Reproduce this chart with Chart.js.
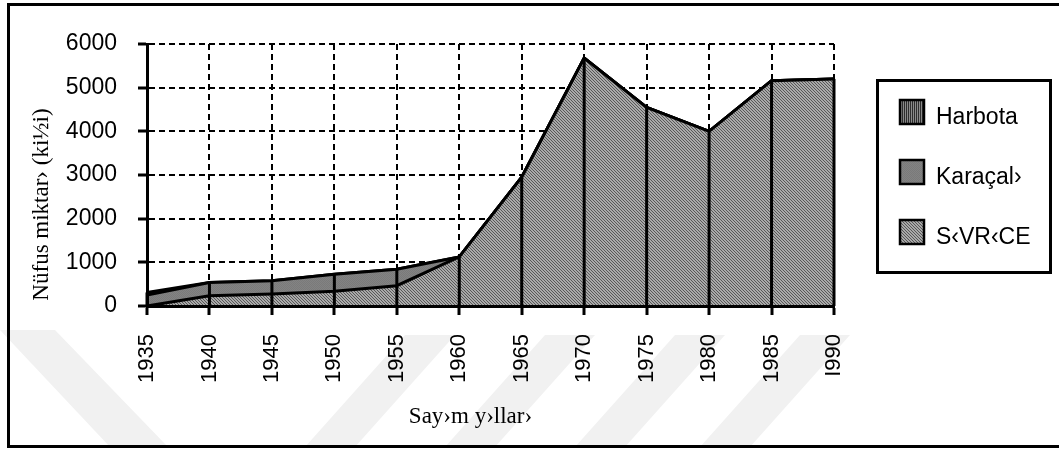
<!DOCTYPE html>
<html><head><meta charset="utf-8">
<script src="https://cdn.jsdelivr.net/npm/chart.js@4.4.1/dist/chart.umd.min.js"></script>
<style>html,body{margin:0;padding:0;background:#fff}canvas{display:block}</style>
</head><body>
<canvas id="c" width="1059" height="450"></canvas>
<script>
// ---- data ----
const years   = ['1935','1940','1945','1950','1955','1960','1965','1970','1975','1980','1985','I990'];
const sivrice = [0, 235, 275, 340, 465, 1125, 2950, 5680, 4550, 4000, 5160, 5200];
const karacal = [250, 305, 305, 385, 375, 0, 0, 0, 0, 0, 0, 0];
const harbota = [60, 0, 0, 0, 0, 0, 0, 0, 0, 0, 0, 0];
const seriesNames = ['Harbota', 'Karaçal›', 'S‹VR‹CE'];
const yTickValues = [0, 1000, 2000, 3000, 4000, 5000, 6000];
const xTitle = 'Say›m y›llar›';
const yTitle = 'Nüfus miktar› (ki½i)';

const canvas = document.getElementById('c');
const ctx0 = canvas.getContext('2d');
function makePattern(w, h, draw) {
  const t = document.createElement('canvas'); t.width = w; t.height = h;
  const g = t.getContext('2d'); draw(g); return ctx0.createPattern(t, 'repeat');
}
const patSivrice = makePattern(3, 3, g => {
  g.fillStyle = '#a9a9a9'; g.fillRect(0, 0, 3, 3);
  g.fillStyle = '#575757'; for (let i = 0; i < 3; i++) g.fillRect(i, i, 1, 1);
});
const patKaracal = makePattern(2, 2, g => {
  g.fillStyle = '#838383'; g.fillRect(0, 0, 2, 2);
  g.fillStyle = '#7a7a7a'; g.fillRect(0, 0, 1, 1); g.fillRect(1, 1, 1, 1);
});
const patHarbota = makePattern(2, 2, g => {
  g.fillStyle = '#2e2e2e'; g.fillRect(0, 0, 2, 2);
  g.fillStyle = '#8a8a8a'; g.fillRect(1, 0, 1, 2);
});
const patterns = {'Harbota': patHarbota, 'Karaçal›': patKaracal, 'S‹VR‹CE': patSivrice};

const totals = years.map((_, i) => sivrice[i] + karacal[i] + harbota[i]);

const frame = {
  id: 'frame',
  beforeDraw(chart) {
    const c = chart.ctx; c.save();
    // faint watermark strokes
    c.fillStyle = '#f1f1f1';
    const polys = [
      [[0,330],[55,330],[168,447],[110,447]],
      [[305,447],[355,447],[455,335],[405,335]],
      [[445,447],[495,447],[595,335],[545,335]],
      [[575,447],[625,447],[725,335],[675,335]],
      [[700,447],[750,447],[850,335],[800,335]]
    ];
    polys.forEach(p => { c.beginPath(); c.moveTo(p[0][0], p[0][1]); p.slice(1).forEach(q => c.lineTo(q[0], q[1])); c.closePath(); c.fill(); });
    c.restore();
  },
  afterDatasetsDraw(chart) {
    // drop lines from each point down to the axis
    const c = chart.ctx, xs = chart.scales.x, ys = chart.scales.y;
    c.save(); c.strokeStyle = '#000'; c.lineWidth = 3;
    totals.forEach((t, i) => {
      const x = xs.getPixelForValue(i);
      c.beginPath(); c.moveTo(x, ys.getPixelForValue(0)); c.lineTo(x, ys.getPixelForValue(t)); c.stroke();
    });
    c.restore();
  },
  afterDraw(chart) {
    const c = chart.ctx; c.save();
    // outer frame
    c.strokeStyle = '#000'; c.lineWidth = 3;
    c.strokeRect(8.5, 4.5, 1070, 442);
    // axis titles
    c.fillStyle = '#000';
    c.font = '23px "Liberation Serif", "Times New Roman", serif';
    c.textAlign = 'center'; c.textBaseline = 'alphabetic';
    c.fillText(xTitle, 470.5, 423);
    c.save(); c.translate(42, 204.5); c.rotate(-Math.PI / 2); c.textBaseline = 'middle';
    c.fillText(yTitle, 0, 0); c.restore();
    // legend
    c.lineWidth = 3; c.strokeRect(877.5, 80.5, 173, 192);
    c.font = '23px "Liberation Sans", Arial, sans-serif'; c.textAlign = 'left';
    seriesNames.forEach((n, k) => {
      const y = 100 + k * 60;
      c.fillStyle = patterns[n]; c.fillRect(900, y, 24, 24);
      c.lineWidth = 2.5; c.strokeStyle = '#000'; c.strokeRect(900, y, 24, 24);
      c.fillStyle = '#000'; c.fillText(n, 936, y + 24);
    });
    c.restore();
  }
};

new Chart(canvas, {
  type: 'line',
  data: {
    labels: years,
    datasets: [
      {label: seriesNames[2], data: sivrice, backgroundColor: patSivrice, fill: 'origin'},
      {label: seriesNames[1], data: karacal, backgroundColor: patKaracal, fill: '-1'},
      {label: seriesNames[0], data: harbota, backgroundColor: patHarbota, fill: '-1'}
    ].map(d => Object.assign(d, {borderColor: '#000', borderWidth: 3, pointRadius: 0, tension: 0}))
  },
  options: {
    responsive: false, animation: false, devicePixelRatio: 1,
    layout: {padding: {left: 0, right: 225, top: 44, bottom: 0}},
    plugins: {legend: {display: false}, tooltip: {enabled: false}},
    scales: {
      x: {
        type: 'category', offset: false,
        afterFit(s) { s.height = 144; },
        grid: {color: '#000', lineWidth: 2, tickLength: 9, tickWidth: 3, tickColor: '#000', tickBorderDash: []},
        border: {color: '#000', width: 3, dash: [6, 4], z: 1},
        ticks: {color: '#000', font: {family: '"Liberation Sans", Arial, sans-serif', size: 22}, minRotation: 90, maxRotation: 90, autoSkip: false, padding: 19}
      },
      y: {
        stacked: true, min: 0, max: 6000,
        afterFit(s) { s.width = 147; },
        afterBuildTicks(s) { s.ticks = yTickValues.map(v => ({value: v})); },
        grid: {color: '#000', lineWidth: 2, tickLength: 9, tickWidth: 3, tickColor: '#000', tickBorderDash: []},
        border: {color: '#000', width: 3, dash: [6, 4], z: 1},
        ticks: {color: '#000', font: {family: '"Liberation Sans", Arial, sans-serif', size: 23}, padding: 21, callback: v => String(v)}
      }
    }
  },
  plugins: [frame]
});
</script>
</body></html>
